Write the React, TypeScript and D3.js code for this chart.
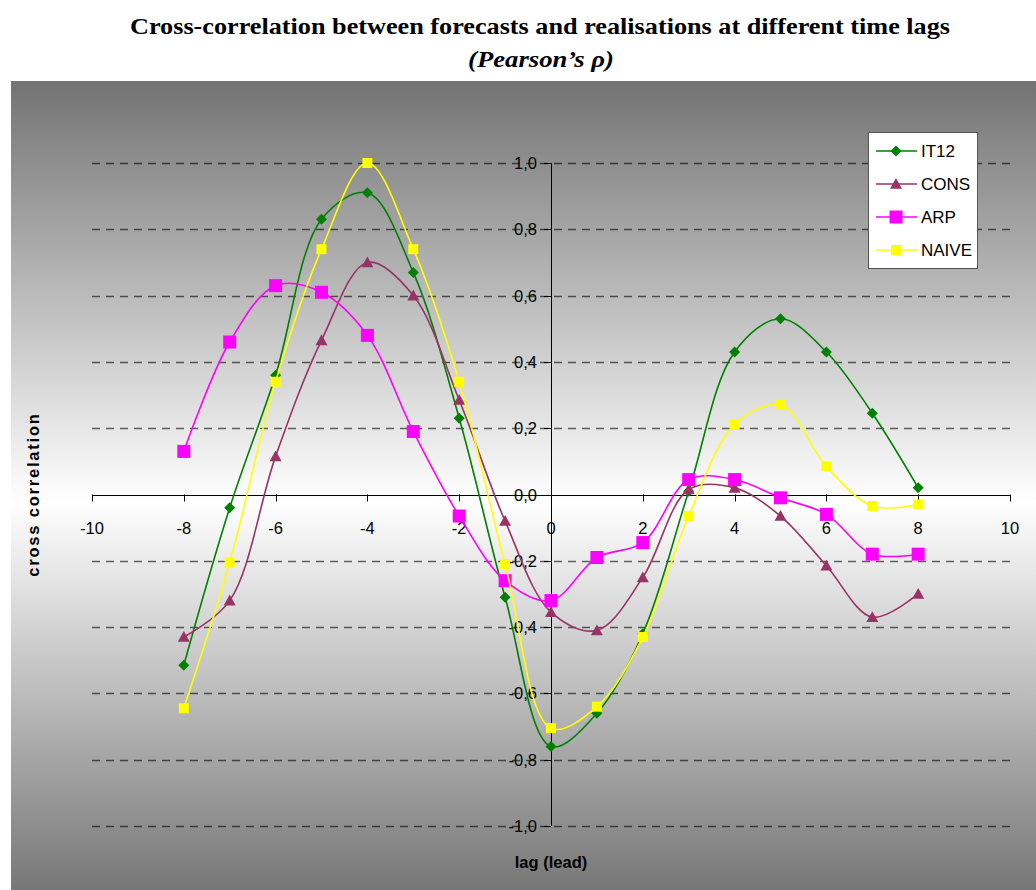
import React from "react";
import * as d3 from "d3";

const lags = [-8, -7, -6, -5, -4, -3, -2, -1, 0, 1, 2, 3, 4, 5, 6, 7, 8];
const it12 = [-0.515, -0.04, 0.36, 0.83, 0.91, 0.67, 0.23, -0.31, -0.76, -0.66, -0.42, 0.01, 0.43, 0.53, 0.43, 0.245, 0.02];
const cons = [-0.43, -0.32, 0.115, 0.465, 0.7, 0.6, 0.285, -0.08, -0.355, -0.41, -0.25, 0.015, 0.02, -0.065, -0.215, -0.37, -0.3];
const arp = [0.13, 0.46, 0.63, 0.61, 0.48, 0.19, -0.065, -0.26, -0.32, -0.19, -0.145, 0.045, 0.045, -0.01, -0.06, -0.18, -0.18];
const naive = [-0.645, -0.205, 0.34, 0.74, 1.0, 0.74, 0.34, -0.21, -0.705, -0.64, -0.43, -0.065, 0.21, 0.27, 0.085, -0.035, -0.03];

const seriesNames = ["IT12", "CONS", "ARP", "NAIVE"];
const xTicks = [-10, -8, -6, -4, -2, 0, 2, 4, 6, 8, 10];
const yTicks = [-1.0, -0.8, -0.6, -0.4, -0.2, 0.0, 0.2, 0.4, 0.6, 0.8, 1.0];

const W = 1036;
const H = 890;

const x = d3.scaleLinear().domain([-10, 10]).range([92, 1010]);
const y = d3.scaleLinear().domain([-1, 1]).range([826, 163]);

const series = [
  { name: seriesNames[0], values: it12, color: "#008000", marker: "diamond" },
  { name: seriesNames[1], values: cons, color: "#993366", marker: "triangle" },
  { name: seriesNames[2], values: arp, color: "#FF00FF", marker: "bigsquare" },
  { name: seriesNames[3], values: naive, color: "#FFFF00", marker: "square" },
];

function Marker({ type, cx, cy, color }: { type: string; cx: number; cy: number; color: string }) {
  if (type === "diamond") {
    const s = 5.5;
    return <path d={`M${cx},${cy - s}L${cx + s},${cy}L${cx},${cy + s}L${cx - s},${cy}Z`} fill={color} />;
  }
  if (type === "triangle") {
    const s = 6;
    return <path d={`M${cx},${cy - s}L${cx + s},${cy + s * 0.8}L${cx - s},${cy + s * 0.8}Z`} fill={color} />;
  }
  if (type === "bigsquare") {
    const s = 6.5;
    return <rect x={cx - s} y={cy - s} width={2 * s} height={2 * s} fill={color} />;
  }
  const s = 5;
  return <rect x={cx - s} y={cy - s} width={2 * s} height={2 * s} fill={color} />;
}

export default function App() {
  const line = d3
    .line<number>()
    .x((_, i) => x(lags[i]))
    .y((v) => y(v))
    .curve(d3.curveCatmullRom.alpha(0.5));

  const sans = "Arial, 'Liberation Sans', sans-serif";
  const serif = "'Liberation Serif', 'Times New Roman', serif";
  const legendX = 868;
  const legendY = 132;

  return (
    <svg width={W} height={H} style={{ position: "absolute", left: 0, top: 0, background: "#fff" }}>
      <defs>
        <linearGradient id="bg" x1="0" y1="0" x2="0" y2="1">
          <stop offset="0%" stopColor="#737373" />
          <stop offset="52%" stopColor="#ffffff" />
          <stop offset="100%" stopColor="#777777" />
        </linearGradient>
      </defs>
      <text x={540} y={34} textAnchor="middle" fontFamily={serif} fontWeight="bold" fontSize={24} textLength={820} lengthAdjust="spacingAndGlyphs">
        Cross-correlation between forecasts and realisations at different time lags
      </text>
      <text x={541} y={67} textAnchor="middle" fontFamily={serif} fontWeight="bold" fontStyle="italic" fontSize={24} textLength={146} lengthAdjust="spacingAndGlyphs">
        (Pearson’s ρ)
      </text>
      <rect x={11} y={81} width={W - 11} height={H - 81} fill="url(#bg)" />

      {/* gridlines */}
      {yTicks
        .filter((t) => Math.abs(t) > 1e-9)
        .map((t) => (
          <line
            key={"g" + t}
            x1={x(-10)}
            x2={x(10)}
            y1={Math.round(y(t)) + 0.5}
            y2={Math.round(y(t)) + 0.5}
            stroke="#000"
            strokeOpacity={0.6}
            strokeWidth={1.3}
            strokeDasharray="8,6"
          />
        ))}

      {/* x axis */}
      <line x1={x(-10)} x2={x(10)} y1={Math.round(y(0)) + 0.5} y2={Math.round(y(0)) + 0.5} stroke="#000" strokeWidth={1} />
      {xTicks.map((t) => (
        <g key={"xt" + t}>
          <line x1={Math.round(x(t)) + 0.5} x2={Math.round(x(t)) + 0.5} y1={y(0)} y2={y(0) + 7} stroke="#000" />
          <text x={x(t)} y={y(0) + 39} textAnchor="middle" fontFamily={sans} fontSize={16.5}>
            {t}
          </text>
        </g>
      ))}

      {/* y axis */}
      <line x1={Math.round(x(0)) + 0.5} x2={Math.round(x(0)) + 0.5} y1={y(1)} y2={y(-1)} stroke="#000" strokeWidth={1} />
      {yTicks.map((t) => (
        <g key={"yt" + t}>
          <line x1={x(0) - 7} x2={x(0)} y1={Math.round(y(t)) + 0.5} y2={Math.round(y(t)) + 0.5} stroke="#000" />
          <text x={x(0) - 14} y={y(t) + 6} textAnchor="end" fontFamily={sans} fontSize={16.5}>
            {d3.format(".1f")(t).replace(".", ",").replace("−", "-")}
          </text>
        </g>
      ))}

      {/* axis titles */}
      <text
        transform={`translate(39,${y(0)}) rotate(-90)`}
        textAnchor="middle"
        fontFamily={sans}
        fontWeight="bold"
        fontSize={16.5}
        letterSpacing={1.8}
      >
        cross correlation
      </text>
      <text x={x(0)} y={868} textAnchor="middle" fontFamily={sans} fontWeight="bold" fontSize={16.5}>
        lag (lead)
      </text>

      {/* series */}
      {series.map((s) => (
        <g key={s.name}>
          <path d={line(s.values) || ""} fill="none" stroke={s.color} strokeWidth={1.6} />
          {s.values.map((v, i) => (
            <Marker key={i} type={s.marker} cx={x(lags[i])} cy={y(v)} color={s.color} />
          ))}
        </g>
      ))}

      {/* legend */}
      <rect x={legendX + 0.5} y={legendY + 0.5} width={109} height={136} fill="#fff" stroke="#555" strokeWidth={1} />
      {series.map((s, i) => {
        const ly = legendY + 19 + i * 33;
        return (
          <g key={"l" + s.name}>
            <line x1={legendX + 8} x2={legendX + 49} y1={ly} y2={ly} stroke={s.color} strokeWidth={1.6} />
            <Marker type={s.marker} cx={legendX + 28} cy={ly} color={s.color} />
            <text x={legendX + 53} y={ly + 6} fontFamily={sans} fontSize={17}>
              {s.name}
            </text>
          </g>
        );
      })}
    </svg>
  );
}
